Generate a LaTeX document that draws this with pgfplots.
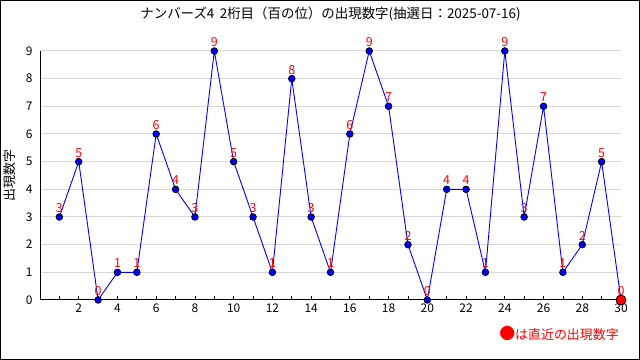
\documentclass[border=0pt]{standalone}
\usepackage{pgfplots}
\pgfplotsset{compat=1.18}
\usepackage{fontspec}
\setmainfont{Noto Sans CJK JP}
\definecolor{gridgray}{RGB}{215,215,215}
\begin{document}
\begin{tikzpicture}
\begin{axis}[
  scale only axis, width=581bp, height=249bp,
  xmin=0, xmax=30, ymin=0, ymax=9,
  clip=false,
  axis x line*=bottom, axis y line*=left,
  axis line style={-, black, line width=1bp},
  xtick={2,4,...,30},
  minor xtick={1,3,...,29},
  tick align=inside,
  xtick style={black, line width=0.8bp},
  major tick length=4bp, minor tick length=4bp,
  ytick={0,...,9},
  ytick style={draw=none},
  ymajorgrids, grid style={gridgray, line width=1bp},
  /pgf/number format/assume math mode=true,
  tick label style={font=\fontsize{12}{14}\selectfont, black},
  yticklabel style={xshift=-4bp},
  ylabel={出現数字},
  ylabel style={font=\fontsize{13}{15}\selectfont, yshift=3bp},
  title={ナンバーズ4\hspace{0.4em}2桁目（百の位）の出現数字(抽選日：2025-07-16)},
  title style={font=\fontsize{13.5}{15}\selectfont, yshift=20bp},
]
\addplot[blue, line width=0.9bp, mark=*, mark size=3.3bp,
  mark options={fill=blue, draw=black, line width=0.8bp},
  nodes near coords,
  every node near coord/.append style={red, font=\fontsize{12.5}{14}\selectfont, anchor=base, inner sep=0pt, yshift=4.5bp}]
table {
x y
1 3
2 5
3 0
4 1
5 1
6 6
7 4
8 3
9 9
10 5
11 3
12 1
13 8
14 3
15 1
16 6
17 9
18 7
19 2
20 0
21 4
22 4
23 1
24 9
25 3
26 7
27 1
28 2
29 5
30 0
};
\addplot[only marks, mark=*, mark size=5bp,
  mark options={fill=red, draw=black, line width=0.8bp}]
table {
x y
30 0
};
\end{axis}
\node[anchor=east, text=red, font=\fontsize{13}{15}\selectfont, inner sep=0pt]
  at ([shift={(-2bp,-33bp)}]current axis.south east) {{\fontsize{16}{15}\selectfont ●}は直近の出現数字};
\draw[line width=1bp] ([shift={(-39.5bp,-59.5bp)}]current axis.south west) rectangle ([shift={(18.5bp,50.5bp)}]current axis.north east);
\end{tikzpicture}
\end{document}
